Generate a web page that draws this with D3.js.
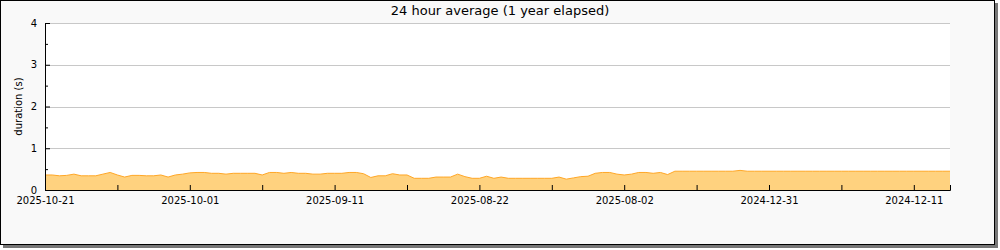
<!DOCTYPE html>
<html>
<head>
<meta charset="utf-8">
<script src="https://cdn.jsdelivr.net/npm/d3@7"></script>
<style>
    body { margin: 0; background: #ffffff; }
    text { font-family: "DejaVu Sans", sans-serif; fill: #000; }
</style>
</head>
<body>
<div id="chart"></div>
<script>
// 24 hour average duration (s), one value per label step
var durations = [
    0.36, 0.36, 0.34, 0.35, 0.38, 0.34, 0.34, 0.34, 0.38, 0.42,
    0.36, 0.31, 0.35, 0.35, 0.34, 0.34, 0.36, 0.31, 0.36, 0.38,
    0.41, 0.42, 0.42, 0.40, 0.40, 0.38, 0.40, 0.40, 0.40, 0.40,
    0.36, 0.42, 0.42, 0.40, 0.42, 0.40, 0.40, 0.38, 0.38, 0.40,
    0.40, 0.40, 0.42, 0.42, 0.39, 0.30, 0.34, 0.34, 0.39, 0.36,
    0.36, 0.28, 0.28, 0.28, 0.31, 0.31, 0.31, 0.38, 0.32, 0.28,
    0.28, 0.33, 0.28, 0.31, 0.28, 0.28, 0.28, 0.28, 0.28, 0.28,
    0.28, 0.31, 0.26, 0.29, 0.32, 0.33, 0.40, 0.42, 0.42, 0.38,
    0.36, 0.38, 0.42, 0.42, 0.40, 0.42, 0.37, 0.45, 0.45, 0.45,
    0.45, 0.45, 0.45, 0.45, 0.45, 0.45, 0.47, 0.45, 0.45, 0.45,
    0.45, 0.45, 0.45, 0.45, 0.45, 0.45, 0.45, 0.45, 0.45, 0.45,
    0.45, 0.45, 0.45, 0.45, 0.45, 0.45, 0.45, 0.45, 0.45, 0.45,
    0.45, 0.45, 0.45, 0.45, 0.45, 0.45
];
var tickIndex = [0, 20, 40, 60, 80, 100, 120];
var tickLabels = ["2025-10-21", "2025-10-01", "2025-09-11", "2025-08-22", "2025-08-02", "2024-12-31", "2024-12-11"];
var minorIndex = [10, 30, 50, 70, 90, 110];
var yTicks = [0, 1, 2, 3, 4];
var yMinor = [0.5, 1.5, 2.5, 3.5];

var data = durations.map(function (d, i) {
    return { i: i, v: d };
});

var margin = { top: 23, right: 50, bottom: 60, left: 45 };
var width = 950 - margin.left;
var height = 190 - margin.top;

var svg = d3.select('#chart').append('svg')
    .attr("width", 1000)
    .attr("height", 250)

// frame with shadow
svg.append("rect")
    .attr("x", 3).attr("y", 3)
    .attr("width", 995).attr("height", 245)
    .attr("fill", "#777")
svg.append("rect")
    .attr("x", 0.5).attr("y", 0.5)
    .attr("width", 994).attr("height", 244)
    .attr("fill", "#f9f9f9")
    .attr("stroke", "#000")

svg.append("text")
    .attr("x", 500)
    .attr("y", 15)
    .attr("text-anchor", "middle")
    .style("font-size", "13px")
    .text("24 hour average (1 year elapsed)")

var g = svg.append("g")
    .attr("transform", "translate(" + margin.left + "," + margin.top + ")")

g.append("rect")
    .attr("width", width)
    .attr("height", height)
    .attr("fill", "#fff")

var x = d3.scaleLinear()
    .domain([0, durations.length - 1])
    .range([0, width]);

var y = d3.scaleLinear()
    .domain([0, 4])
    .range([height, 0]);

// grid
g.selectAll(".grid").data(yTicks.slice(1)).enter().append("line")
    .attr("class", "grid")
    .attr("x1", 0).attr("x2", width)
    .attr("y1", function (d) { return Math.round(y(d)) + 0.5; })
    .attr("y2", function (d) { return Math.round(y(d)) + 0.5; })
    .attr("stroke", "#c8c8c8")

var area = d3.area()
    .x(function (d) { return x(d.i); })
    .y0(height)
    .y1(function (d) { return y(d.v); })

var line = d3.line()
    .x(function (d) { return x(d.i); })
    .y(function (d) { return y(d.v); })

g.append("path")
    .datum(data)
    .attr("d", area)
    .attr("fill", "#ffd27f")

g.append("path")
    .datum(data)
    .attr("d", line)
    .attr("fill", "none")
    .attr("stroke", "#ffa726")
    .attr("stroke-width", 1)

// x axis
var xAxisCall = d3.axisBottom(x)
    .tickValues(tickIndex)
    .tickSize(-5)
    .tickPadding(7)
    .tickFormat(function (d, i) { return tickLabels[i]; });
var xAxis = g.append("g")
    .attr("class", "x-axis")
    .attr("transform", "translate(0," + height + ")")
    .call(xAxisCall)
xAxis.selectAll("text").style("font-size", "10px")

g.append("g")
    .attr("transform", "translate(0," + height + ")")
    .call(d3.axisBottom(x).tickValues(minorIndex).tickSize(-5).tickFormat(""))
    .select(".domain").remove()

// y axis
var yAxisCall = d3.axisLeft(y)
    .tickValues(yTicks)
    .tickSize(-5)
    .tickPadding(8)
    .tickFormat(d3.format("d"));
var yAxis = g.append("g")
    .attr("class", "y-axis")
    .call(yAxisCall)
yAxis.selectAll("text").style("font-size", "10px")

g.append("g")
    .call(d3.axisLeft(y).tickValues(yMinor).tickSize(-3).tickFormat(""))
    .select(".domain").remove()

g.selectAll(".domain").attr("stroke", "#000")

svg.append("text")
    .attr("transform", "translate(22," + (margin.top + height / 2) + ") rotate(-90)")
    .attr("text-anchor", "middle")
    .style("font-size", "10px")
    .text("duration (s)")
</script>
</body>
</html>
